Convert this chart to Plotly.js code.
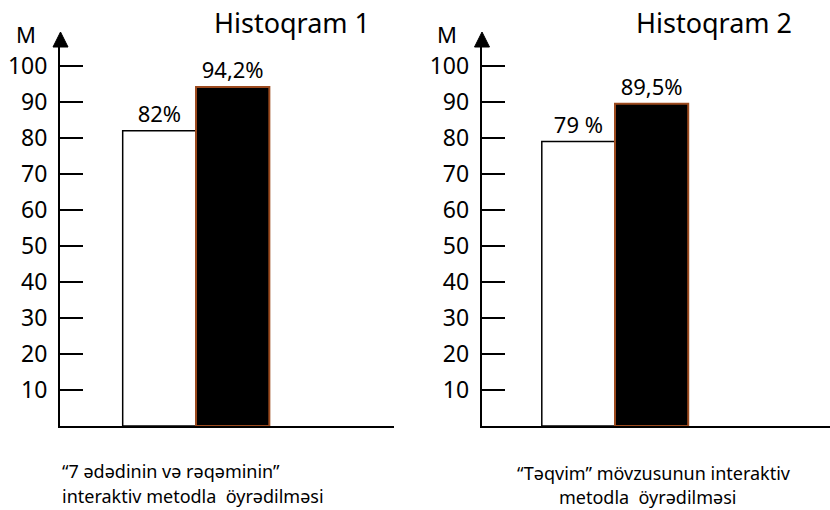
<!DOCTYPE html>
<html>
<head>
<meta charset="utf-8">
<script src="https://cdn.plot.ly/plotly-3.0.1.min.js"></script>
<style>html,body{margin:0;padding:0;background:#fff;}#chart{width:830px;height:510px;}</style>
</head>
<body>
<div id="chart"></div>
<script>
// ---- data ----
const groups = ["Histoqram 1", "Histoqram 2"];
const barPositions = [0, 1];
const values1 = [82, 94.2];
const labels1 = ["82%", "94,2%"];
const values2 = [79, 89.5];
const labels2 = ["79 %", "89,5%"];
const tickValues = [10, 20, 30, 40, 50, 60, 70, 80, 90, 100];
const yAxisLabel = "M";
const captions1 = ["\u201c7 ədədinin və rəqəminin\u201d", "interaktiv metodla  öyrədilməsi"];
const captions2 = ["\u201cTəqvim\u201d mövzusunun interaktiv", "metodla  öyrədilməsi"];

// ---- styling ----
const W = 830, H = 510;
const FONT = "Noto Sans, Open Sans, sans-serif";
const fillColors = ["#ffffff", "#000000"];
const lineColors = ["#000000", "#9C4A1E"];
const lineWidths = [1.5, 2];
const px = v => v / W;
const py = v => 1 - v / H;

const yBottom = 426, yTop = 46;
const yRangeMax = (yBottom - yTop) / 3.6;

function barTrace(vals, labs, xa, ya) {
  return {
    type: "bar", x: barPositions, y: vals, text: labs,
    textposition: "outside", cliponaxis: false,
    textfont: {family: FONT, size: 22, color: "#000"},
    width: 1,
    marker: {color: fillColors, line: {color: lineColors, width: lineWidths}},
    xaxis: xa, yaxis: ya, hoverinfo: "skip", showlegend: false
  };
}

function yAxisDef(anchor) {
  return {
    anchor: anchor, domain: [py(yBottom), py(yTop)], range: [0, yRangeMax],
    tickmode: "array", tickvals: tickValues, ticktext: tickValues.map(String),
    ticks: "inside", ticklen: 23, tickwidth: 2, tickcolor: "#000",
    showline: true, linecolor: "#000", linewidth: 2,
    showgrid: false, zeroline: false, ticklabelstandoff: 6,
    tickfont: {family: FONT, size: 23, color: "#000"}, fixedrange: true
  };
}
function xAxisDef(anchor, dom, rng) {
  return {
    anchor: anchor, domain: dom, range: rng,
    showline: true, linecolor: "#000", linewidth: 2,
    showticklabels: false, ticks: "", showgrid: false, zeroline: false, fixedrange: true
  };
}

function arrow(xc) {
  const apexY = 32, baseY = 47, half = 7.5;
  return {
    type: "path", xref: "paper", yref: "paper",
    path: `M ${px(xc)} ${py(apexY)} L ${px(xc - half)} ${py(baseY)} L ${px(xc + half)} ${py(baseY)} Z`,
    fillcolor: "#000", line: {color: "#000", width: 1}
  };
}

function ann(text, x, y, size, xanchor) {
  return {
    text: text, xref: "paper", yref: "paper", x: px(x), y: py(y),
    xanchor: xanchor || "center", yanchor: "middle", showarrow: false,
    font: {family: FONT, size: size, color: "#000"}
  };
}

const data = [
  barTrace(values1, labels1, "x", "y"),
  barTrace(values2, labels2, "x2", "y2")
];

const layout = {
  width: W, height: H, margin: {l: 0, r: 0, t: 0, b: 0},
  paper_bgcolor: "#fff", plot_bgcolor: "rgba(0,0,0,0)",
  bargap: 0,
  xaxis: xAxisDef("y", [px(60), px(394)], [-1.355, 3.20]),
  yaxis: yAxisDef("x"),
  xaxis2: xAxisDef("y2", [px(481.7), 1], [-1.321, 3.437]),
  yaxis2: yAxisDef("x2"),
  shapes: [arrow(60.5), arrow(482)],
  annotations: [
    ann(groups[0], 292, 23, 27),
    ann(groups[1], 714, 23, 27),
    ann(yAxisLabel, 26, 34, 22),
    ann(yAxisLabel, 447, 34, 22),
    ann(captions1[0], 60, 471, 18, "left"),
    ann(captions1[1], 60, 496, 18, "left"),
    ann(captions2[0], 654, 473, 18),
    ann(captions2[1], 647, 497, 18)
  ]
};

Plotly.newPlot("chart", data, layout, {staticPlot: true, displayModeBar: false});
</script>
</body>
</html>
